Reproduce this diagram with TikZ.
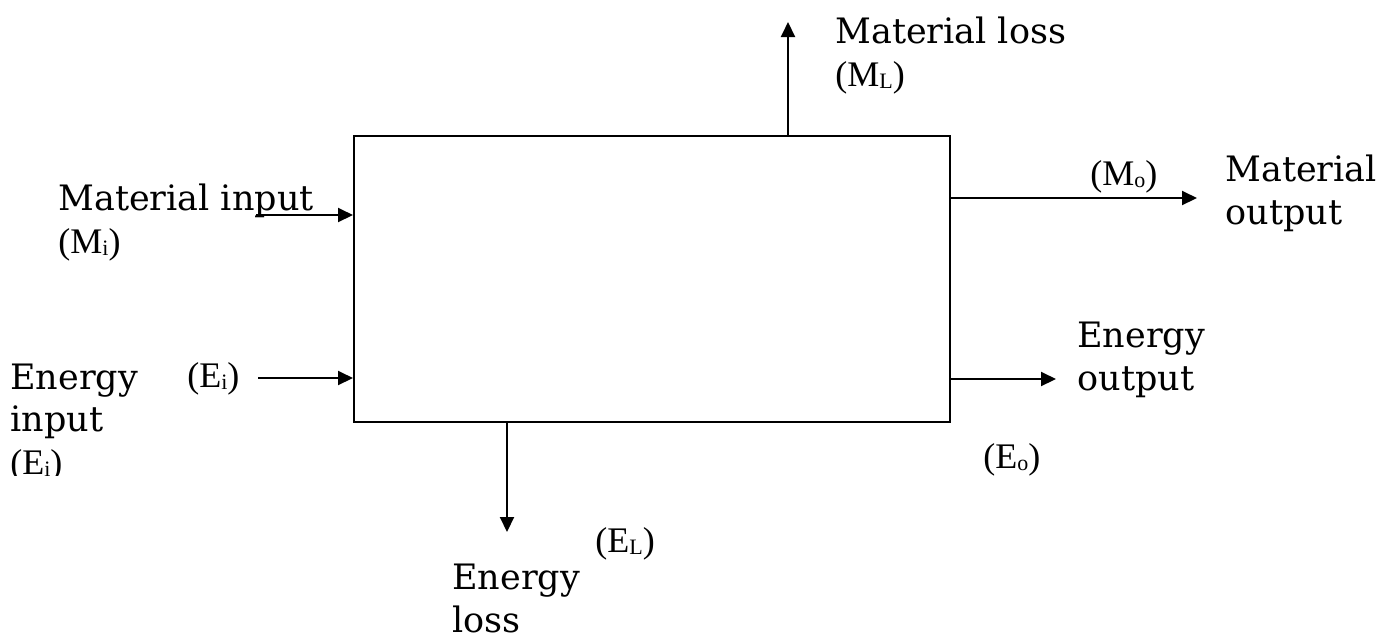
\documentclass[tikz,border=0pt]{standalone}
\usepackage{fontspec}
\setmainfont{DejaVu Serif}
\newfontfamily\timesfont{Liberation Serif}
\usetikzlibrary{arrows.meta,positioning}

\newcommand{\flowsym}[2]{{\timesfont\fontsize{18pt}{21.25pt}\selectfont(#1\raisebox{-1pt}{\fontsize{11pt}{11pt}\selectfont #2})}}

\begin{document}
\begin{tikzpicture}[
  x=0.5pt,y=-0.5pt,
  font=\fontsize{17.5pt}{21.25pt}\selectfont,
  process/.style={draw,line width=1pt,minimum width=298pt,minimum height=143pt,inner sep=0pt},
  lbl/.style={inner sep=0pt,align=left,anchor=base west},
  arr/.style={-{Triangle[length=7.5pt,width=7pt]},line width=1pt}]
\useasboundingbox (0,0) rectangle (1381,639);
\node[process] (proc) at (652,279) {};
% flow ends
\coordinate (min) at (256,215);
\coordinate (ein) at (258,378);
\coordinate (mloss) at (788,22);
\coordinate (mout) at (1197,198);
\coordinate (eout) at (1056,379);
\coordinate (eloss) at (507,532);
\draw[arr] (min) -- (min -| proc.west);
\draw[arr] (ein) -- (ein -| proc.west);
\draw[arr] (mloss |- proc.north) -- (mloss);
\draw[arr] (mout -| proc.east) -- (mout);
\draw[arr] (eout -| proc.east) -- (eout);
\draw[arr] (eloss |- proc.south) -- (eloss);
% labels (placed at the baseline of their last line)
\node[lbl] (minlbl) at (58,253) {Material input\\\flowsym{M}{i}};
\begin{scope}
\clip (0,0) rectangle (180,475);
\node[lbl] (einlbl) at (10,474) {Energy\\input\\\flowsym{E}{i}};
\end{scope}
\node[lbl] (einsym) at (187,387) {\flowsym{E}{i}};
\node[lbl] (mlosslbl) at (835,86) {Material loss\\\flowsym{M}{L}};
\node[lbl] (moutsym) at (1090,185) {\flowsym{M}{o}};
\node[lbl] (moutlbl) at (1225,224) {Material\\output};
\node[lbl] (eoutlbl) at (1077,390) {Energy\\output};
\node[lbl] (eoutsym) at (983,468) {\flowsym{E}{o}};
\node[lbl] (elosssym) at (595,552) {\flowsym{E}{L}};
\node[lbl] (elosslbl) at (452,632) {Energy\\loss};
\end{tikzpicture}
\end{document}
